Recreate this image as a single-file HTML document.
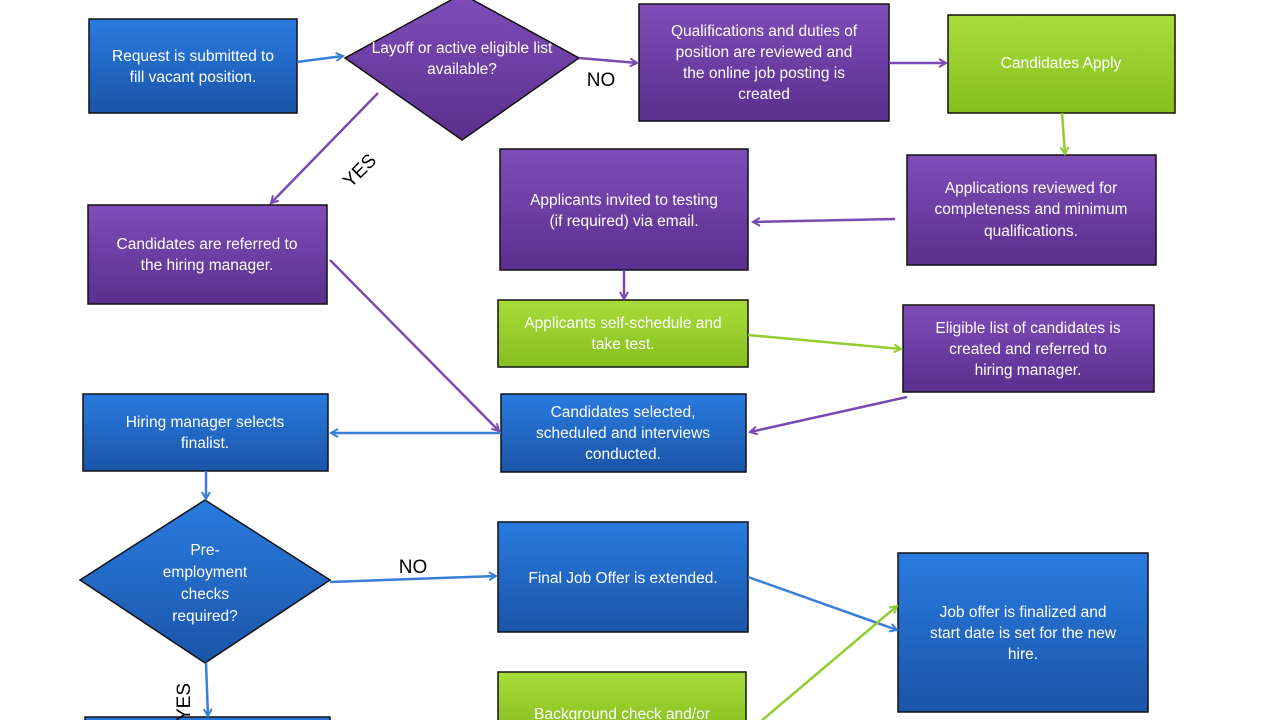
<!DOCTYPE html>
<html><head><meta charset="utf-8"><style>
html,body{margin:0;padding:0;background:#fff;width:1280px;height:720px;overflow:hidden}
svg{display:block}
text{font-family:"Liberation Sans",sans-serif;font-size:15.5px;fill:#fff;text-anchor:middle}
.lbl{fill:#000;font-size:19px}
</style></head><body>
<svg width="1280" height="720" viewBox="0 0 1280 720">
<defs>
<linearGradient id="gb" x1="0" y1="0" x2="0" y2="1"><stop offset="0" stop-color="#2a7be0"/><stop offset="1" stop-color="#1a55a8"/></linearGradient>
<linearGradient id="gp" x1="0" y1="0" x2="0" y2="1"><stop offset="0" stop-color="#7f4db8"/><stop offset="1" stop-color="#5a2f8e"/></linearGradient>
<linearGradient id="gg" x1="0" y1="0" x2="0" y2="1"><stop offset="0" stop-color="#a8dc3a"/><stop offset="1" stop-color="#86bf1e"/></linearGradient>
<marker id="ab" markerWidth="10" markerHeight="10" refX="8" refY="5" orient="auto" markerUnits="userSpaceOnUse"><path d="M1,1 L8,5 L1,9" fill="none" stroke="#3a7fd6" stroke-width="2"/></marker>
<marker id="ap" markerWidth="10" markerHeight="10" refX="8" refY="5" orient="auto" markerUnits="userSpaceOnUse"><path d="M1,1 L8,5 L1,9" fill="none" stroke="#7a4bb3" stroke-width="2"/></marker>
<marker id="ag" markerWidth="10" markerHeight="10" refX="8" refY="5" orient="auto" markerUnits="userSpaceOnUse"><path d="M1,1 L8,5 L1,9" fill="none" stroke="#92cc2e" stroke-width="2"/></marker>
</defs>
<g stroke="#111" stroke-width="1.5">
<rect x="89" y="19" width="208" height="94" fill="url(#gb)"/>
<rect x="639" y="4" width="250" height="117" fill="url(#gp)"/>
<rect x="948" y="15" width="227" height="98" fill="url(#gg)"/>
<rect x="907" y="155" width="249" height="110" fill="url(#gp)"/>
<rect x="500" y="149" width="248" height="121" fill="url(#gp)"/>
<rect x="88" y="205" width="239" height="99" fill="url(#gp)"/>
<rect x="498" y="300" width="250" height="67" fill="url(#gg)"/>
<rect x="903" y="305" width="251" height="87" fill="url(#gp)"/>
<rect x="83" y="394" width="245" height="77" fill="url(#gb)"/>
<rect x="501" y="394" width="245" height="78" fill="url(#gb)"/>
<rect x="498" y="522" width="250" height="110" fill="url(#gb)"/>
<rect x="898" y="553" width="250" height="159" fill="url(#gb)"/>
<rect x="498" y="672" width="248" height="60" fill="url(#gg)"/>
<rect x="85" y="717" width="245" height="20" fill="url(#gb)"/>
<polygon points="462,-6 579,58 462,140 345,58" fill="url(#gp)"/>
<polygon points="205,500 330,580 205,663 80,580" fill="url(#gb)"/>
</g>
<g fill="none" stroke-width="2.5">
<line x1="297" y1="62" x2="343" y2="56" stroke="#3a7fd6" marker-end="url(#ab)"/>
<line x1="579" y1="58" x2="637" y2="63" stroke="#7a4bb3" marker-end="url(#ap)"/>
<line x1="378" y1="93" x2="271" y2="203" stroke="#7a4bb3" marker-end="url(#ap)"/>
<line x1="889" y1="63" x2="946" y2="63" stroke="#7a4bb3" marker-end="url(#ap)"/>
<line x1="1062" y1="113" x2="1065" y2="154" stroke="#92cc2e" marker-end="url(#ag)"/>
<line x1="895" y1="219" x2="753" y2="222" stroke="#7a4bb3" marker-end="url(#ap)"/>
<line x1="624" y1="270" x2="624" y2="299" stroke="#7a4bb3" marker-end="url(#ap)"/>
<line x1="748" y1="335" x2="901" y2="349" stroke="#92cc2e" marker-end="url(#ag)"/>
<line x1="907" y1="397" x2="750" y2="432" stroke="#7a4bb3" marker-end="url(#ap)"/>
<line x1="330" y1="260" x2="499" y2="431" stroke="#7a4bb3" marker-end="url(#ap)"/>
<line x1="501" y1="433" x2="331" y2="433" stroke="#3a7fd6" marker-end="url(#ab)"/>
<line x1="206" y1="471" x2="206" y2="499" stroke="#3a7fd6" marker-end="url(#ab)"/>
<line x1="330" y1="582" x2="496" y2="576" stroke="#3a7fd6" marker-end="url(#ab)"/>
<line x1="748" y1="577" x2="897" y2="630" stroke="#3a7fd6" marker-end="url(#ab)"/>
<line x1="760" y1="722" x2="897" y2="606" stroke="#92cc2e" marker-end="url(#ag)"/>
<line x1="206" y1="663" x2="208" y2="716" stroke="#3a7fd6" marker-end="url(#ab)"/>
</g>
<text class="lbl" x="601" y="86">NO</text>
<text class="lbl" x="413" y="573">NO</text>
<text class="lbl" x="0" y="0" transform="translate(364,175) rotate(-45)">YES</text>
<text class="lbl" x="0" y="0" transform="translate(190,702) rotate(-90)">YES</text>
<text x="193" y="61">Request is submitted to</text><text x="193" y="82">fill vacant position.</text>
<text x="462" y="53">Layoff or active eligible list</text><text x="462" y="74">available?</text>
<text x="764" y="36">Qualifications and duties of</text><text x="764" y="57">position are reviewed and</text><text x="764" y="78">the online job posting is</text><text x="764" y="99">created</text>
<text x="1061" y="68">Candidates Apply</text>
<text x="1031" y="193">Applications reviewed for</text><text x="1031" y="214">completeness and minimum</text><text x="1031" y="236">qualifications.</text>
<text x="624" y="205">Applicants invited to testing</text><text x="624" y="226">(if required) via email.</text>
<text x="207" y="249">Candidates are referred to</text><text x="207" y="270">the hiring manager.</text>
<text x="623" y="328">Applicants self-schedule and</text><text x="623" y="349">take test.</text>
<text x="1028" y="333">Eligible list of candidates is</text><text x="1028" y="354">created and referred to</text><text x="1028" y="375">hiring manager.</text>
<text x="205" y="427">Hiring manager selects</text><text x="205" y="448">finalist.</text>
<text x="623" y="417">Candidates selected,</text><text x="623" y="438">scheduled and interviews</text><text x="623" y="459">conducted.</text>
<text x="205" y="555">Pre-</text><text x="205" y="577">employment</text><text x="205" y="599">checks</text><text x="205" y="621">required?</text>
<text x="623" y="583">Final Job Offer is extended.</text>
<text x="1023" y="617">Job offer is finalized and</text><text x="1023" y="638">start date is set for the new</text><text x="1023" y="659">hire.</text>
<text x="622" y="719">Background check and/or</text>
</svg>
</body></html>
